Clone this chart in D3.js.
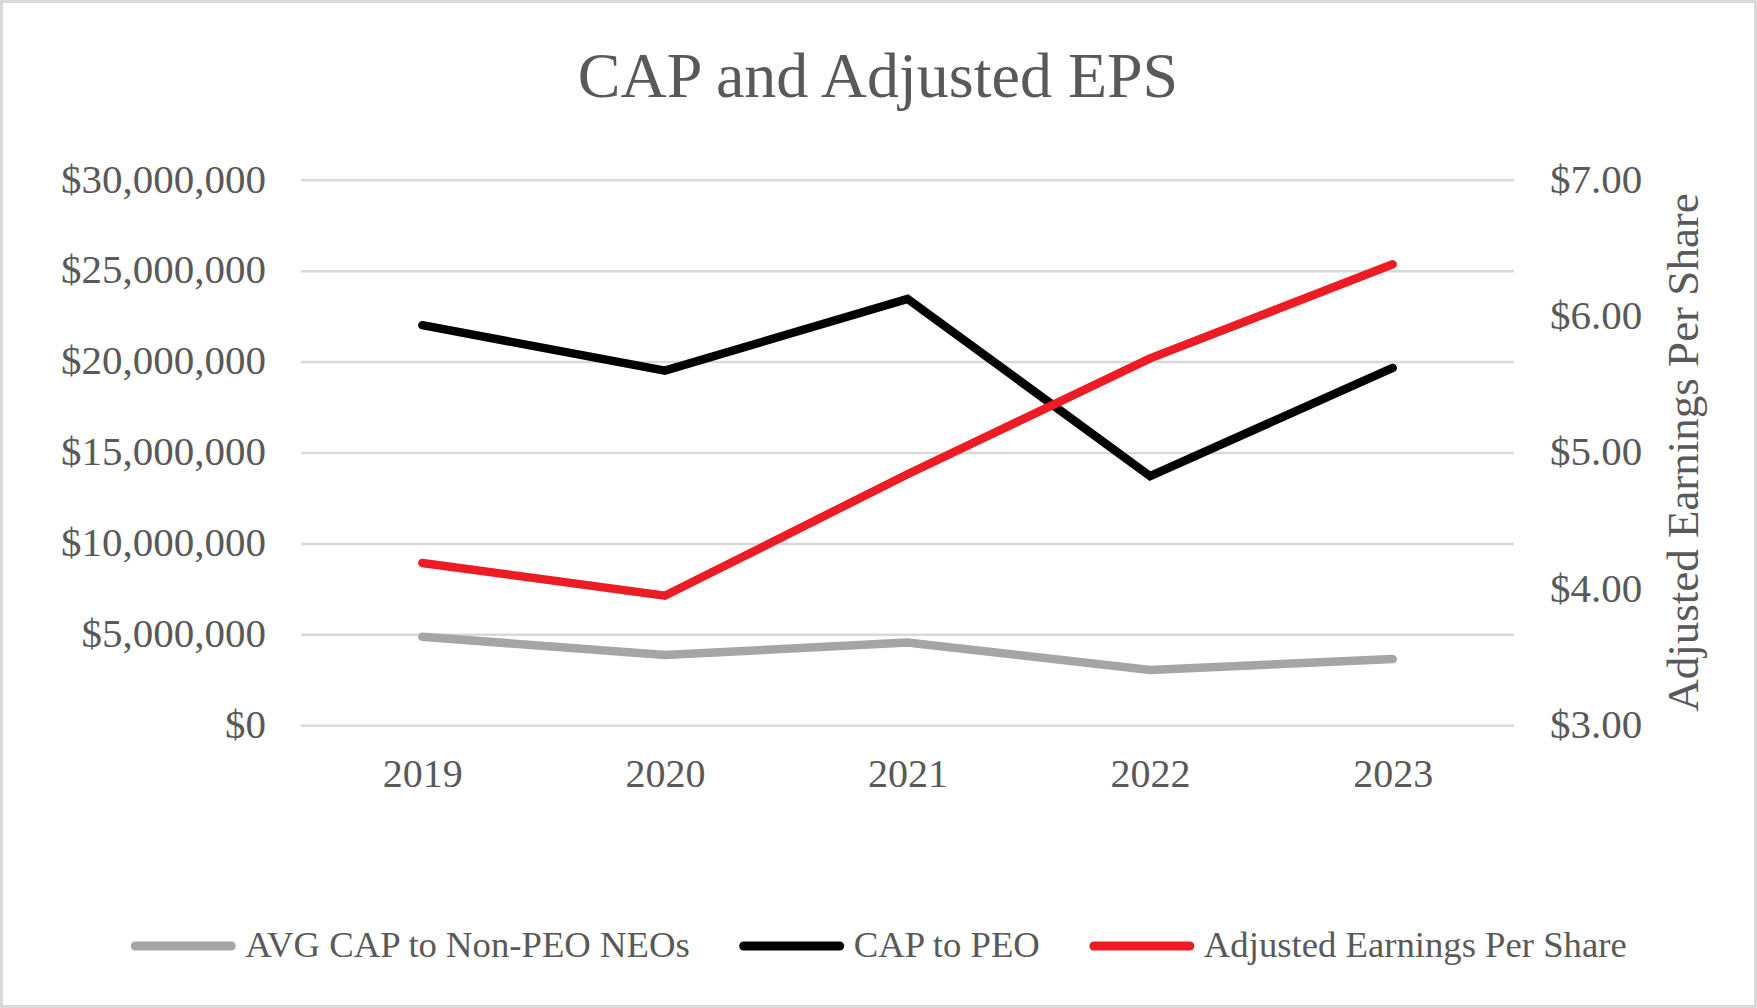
<!DOCTYPE html>
<html>
<head>
<meta charset="utf-8">
<title>CAP and Adjusted EPS</title>
<style>
    html, body { margin: 0; padding: 0; background: #ffffff; }
    svg { display: block; }
    text { font-family: "Liberation Serif", "Times New Roman", serif; fill: #595959; }
</style>
</head>
<body>
<main></main>
<script src="https://cdn.jsdelivr.net/npm/d3@7/dist/d3.min.js"></script>
<script>
    // data ==============================
    var years = ["2019", "2020", "2021", "2022", "2023"];
    var capToPeo = [22000000, 19500000, 23450000, 13700000, 19650000];
    var avgCapNonPeo = [4870000, 3860000, 4550000, 3040000, 3640000];
    var adjustedEps = [4.19, 3.95, 4.84, 5.69, 6.38];
    var leftTicks = [0, 5000000, 10000000, 15000000, 20000000, 25000000, 30000000];
    var rightTicks = [3, 4, 5, 6, 7];
    var seriesNames = ["AVG CAP to Non-PEO NEOs", "CAP to PEO", "Adjusted Earnings Per Share"];

    // layout ============================
    var width = 1757;
    var height = 1008;
    var plot = {left: 301, right: 1514, top: 179.7, bottom: 725.3};
    var colors = ["#a5a5a5", "#000000", "#ed1c24"];

    var svg = d3.select("main")
        .append("svg")
        .attr("width", width)
        .attr("height", height);

    // background + border
    svg.append("rect")
        .attr("x", 1.5).attr("y", 1.5)
        .attr("width", width - 3).attr("height", height - 3)
        .attr("fill", "#ffffff")
        .attr("stroke", "#d9d9d9")
        .attr("stroke-width", 3);

    // scales ============================
    var x = d3.scalePoint()
        .domain(years)
        .range([plot.left, plot.right])
        .padding(0.5);
    var yLeft = d3.scaleLinear()
        .domain([0, 30000000])
        .range([plot.bottom, plot.top]);
    var yRight = d3.scaleLinear()
        .domain([3, 7])
        .range([plot.bottom, plot.top]);

    // title
    svg.append("text")
        .attr("x", 878)
        .attr("y", 97)
        .attr("text-anchor", "middle")
        .attr("font-size", "64px")
        .text("CAP and Adjusted EPS");

    // gridlines (left axis)
    var grid = svg.append("g")
        .attr("transform", "translate(" + plot.left + ",0)")
        .call(d3.axisLeft(yLeft).tickValues(leftTicks)
            .tickSize(-(plot.right - plot.left)).tickFormat(""));
    grid.select(".domain").remove();
    grid.selectAll("line").attr("stroke", "#d9d9d9").attr("stroke-width", 2.5);

    // left axis labels
    var leftAxis = svg.append("g")
        .attr("transform", "translate(" + (plot.left - 35) + ",0)")
        .call(d3.axisLeft(yLeft).tickValues(leftTicks)
            .tickSize(0).tickPadding(0).tickFormat(d3.format("$,")));
    leftAxis.select(".domain").remove();
    leftAxis.selectAll("text")
        .attr("font-size", "41px")
        .attr("font-family", null)
        .attr("fill", "#595959")
        .attr("dy", "0.3em");

    // right axis labels
    var rightAxis = svg.append("g")
        .attr("transform", "translate(" + (plot.right + 36) + ",0)")
        .call(d3.axisRight(yRight).tickValues(rightTicks)
            .tickSize(0).tickPadding(0).tickFormat(function (d) { return "$" + d3.format(".2f")(d); }));
    rightAxis.select(".domain").remove();
    rightAxis.selectAll("text")
        .attr("font-size", "41px")
        .attr("font-family", null)
        .attr("fill", "#595959")
        .attr("dy", "0.3em");

    // right axis title
    svg.append("text")
        .attr("transform", "translate(1698," + ((plot.top + plot.bottom) / 2) + ") rotate(-90)")
        .attr("text-anchor", "middle")
        .attr("font-size", "45px")
        .text("Adjusted Earnings Per Share");

    // x axis labels
    var xAxis = svg.append("g")
        .attr("transform", "translate(0," + plot.bottom + ")")
        .call(d3.axisBottom(x).tickSize(0).tickPadding(0));
    xAxis.select(".domain").remove();
    xAxis.selectAll("text")
        .attr("font-size", "40px")
        .attr("font-family", null)
        .attr("fill", "#595959")
        .attr("dy", "62px");

    // lines =============================
    var lineLeft = d3.line()
        .x(function (d, i) { return x(years[i]); })
        .y(function (d) { return yLeft(d); });
    var lineRight = d3.line()
        .x(function (d, i) { return x(years[i]); })
        .y(function (d) { return yRight(d); });

    var seriesPaths = [
        lineLeft(avgCapNonPeo),
        lineLeft(capToPeo),
        lineRight(adjustedEps)
    ];
    svg.append("g").selectAll("path")
        .data(seriesPaths)
        .enter()
        .append("path")
        .attr("d", function (d) { return d; })
        .attr("fill", "none")
        .attr("stroke", function (d, i) { return colors[i]; })
        .attr("stroke-width", 8.5)
        .attr("stroke-linecap", "round")
        .attr("stroke-linejoin", "miter");

    // legend ============================
    var legend = svg.append("g");
    var swatchLen = 96, swatchGap = 14, itemGap = 54, legendY = 946;
    var items = legend.selectAll("g")
        .data(seriesNames)
        .enter()
        .append("g");
    items.append("line")
        .attr("x1", 0).attr("x2", swatchLen)
        .attr("y1", 0).attr("y2", 0)
        .attr("stroke", function (d, i) { return colors[i]; })
        .attr("stroke-width", 9)
        .attr("stroke-linecap", "round");
    items.append("text")
        .attr("x", swatchLen + swatchGap)
        .attr("y", 11)
        .attr("font-size", "36.7px")
        .text(function (d) { return d; });

    // lay items out left to right, centred on the chart
    var offsets = [], total = 0;
    items.each(function (d, i) {
        var w = swatchLen + swatchGap + this.querySelector("text").getComputedTextLength();
        offsets.push(total);
        total += w + (i < seriesNames.length - 1 ? itemGap : 0);
    });
    var startX = 881 - total / 2;
    items.attr("transform", function (d, i) {
        return "translate(" + (startX + offsets[i]) + "," + legendY + ")";
    });
</script>
</body>
</html>
